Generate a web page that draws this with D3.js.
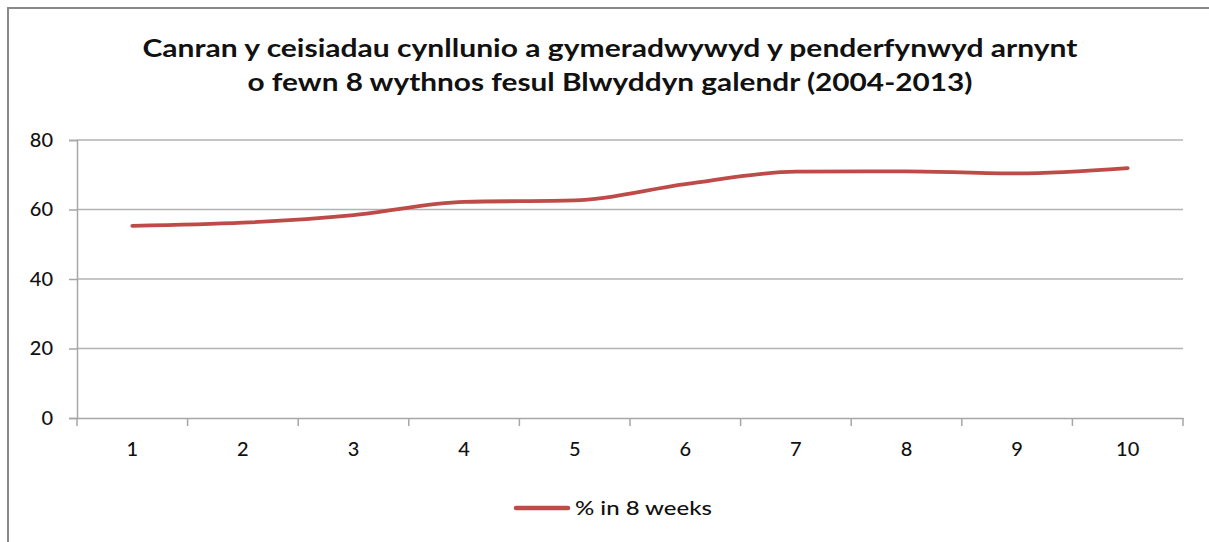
<!DOCTYPE html>
<html>
<head>
<meta charset="utf-8">
<script src="https://cdn.jsdelivr.net/npm/d3@7"></script>
<style>
  html, body { margin: 0; padding: 0; background: #fff; }
  svg { display: block; }
  text { font-family: Lato, "Open Sans", sans-serif; fill: #111; }
</style>
</head>
<body>
<svg id="chart" width="1209" height="542"></svg>
<script>
const categories = ["1", "2", "3", "4", "5", "6", "7", "8", "9", "10"];
const seriesName = "% in 8 weeks";
const values = [55.3, 56.2, 58.4, 62.2, 62.6, 67.3, 70.9, 71.0, 70.4, 71.9];
const yTicks = [0, 20, 40, 60, 80];
const titleLines = [
  "Canran y ceisiadau  cynllunio a gymeradwywyd y penderfynwyd arnynt",
  "o fewn 8 wythnos fesul Blwyddyn galendr (2004-2013)"
];

const svg = d3.select("#chart");
const W = 1209, H = 542;
const margin = { left: 77, right: 1209 - 1183, top: 140, bottom: 542 - 418 };

// outer frame
svg.append("rect").attr("x", 8).attr("y", 8).attr("width", W + 10).attr("height", H + 10)
  .attr("fill", "#fff").attr("stroke", "#8a8a8a").attr("stroke-width", 2);

const x = d3.scaleBand().domain(categories).range([margin.left, W - margin.right]);
const y = d3.scaleLinear().domain([0, 80]).range([H - margin.bottom, margin.top]);

// gridlines
svg.append("g").selectAll("line").data(yTicks.filter(d => d > 0)).join("line")
  .attr("x1", margin.left).attr("x2", W - margin.right)
  .attr("y1", d => y(d)).attr("y2", d => y(d))
  .attr("stroke", "#b3b3b3").attr("stroke-width", 1.5);

// y axis
const yAxis = svg.append("g").attr("transform", `translate(${margin.left},0)`)
  .call(d3.axisLeft(y).tickValues(yTicks).tickSize(8).tickPadding(16));
yAxis.select(".domain").attr("stroke", "#a6a6a6").attr("stroke-width", 1.5);
yAxis.selectAll(".tick line").attr("stroke", "#a6a6a6").attr("stroke-width", 1.5);
yAxis.selectAll(".tick text").style("font-size", "20px").style("font-weight", "500").attr("fill", "#111");

// x axis
const xAxis = svg.append("g").attr("transform", `translate(0,${y(0)})`)
  .call(d3.axisBottom(x).tickSize(0).tickPadding(24));
xAxis.select(".domain").attr("stroke", "#a6a6a6").attr("stroke-width", 1.5);
xAxis.selectAll(".tick text").style("font-size", "20px").style("font-weight", "500").attr("fill", "#111");
// category boundary ticks
const bounds = categories.map(c => x(c)).concat([x(categories[categories.length - 1]) + x.bandwidth()]);
svg.append("g").selectAll("line").data(bounds).join("line")
  .attr("x1", d => d).attr("x2", d => d)
  .attr("y1", y(0)).attr("y2", y(0) + 8)
  .attr("stroke", "#a6a6a6").attr("stroke-width", 1.5);

// line
const line = d3.line()
  .x((d, i) => x(categories[i]) + x.bandwidth() / 2)
  .y(d => y(d))
  .curve(d3.curveMonotoneX);
svg.append("path").datum(values).attr("d", line)
  .attr("fill", "none").attr("stroke", "#BE4B48").attr("stroke-width", 3.8)
  .attr("stroke-linecap", "round").attr("stroke-linejoin", "round");

// title
const titleY = [57, 91];
const titleW = [935, 725];
svg.append("g").selectAll("text").data(titleLines).join("text")
  .attr("x", 610).attr("y", (d, i) => titleY[i])
  .attr("text-anchor", "middle")
  .attr("textLength", (d, i) => titleW[i]).attr("lengthAdjust", "spacingAndGlyphs")
  .style("font-size", "24px").style("font-weight", "bold")
  .text(d => d);

// legend
const lg = svg.append("g");
lg.append("line").attr("x1", 516).attr("x2", 568).attr("y1", 508).attr("y2", 508)
  .attr("stroke", "#BE4B48").attr("stroke-width", 4.5).attr("stroke-linecap", "round");
lg.append("text").attr("x", 575).attr("y", 515)
  .attr("textLength", 137).attr("lengthAdjust", "spacingAndGlyphs")
  .style("font-size", "20px").style("font-weight", "500").text(seriesName);
</script>
</body>
</html>
